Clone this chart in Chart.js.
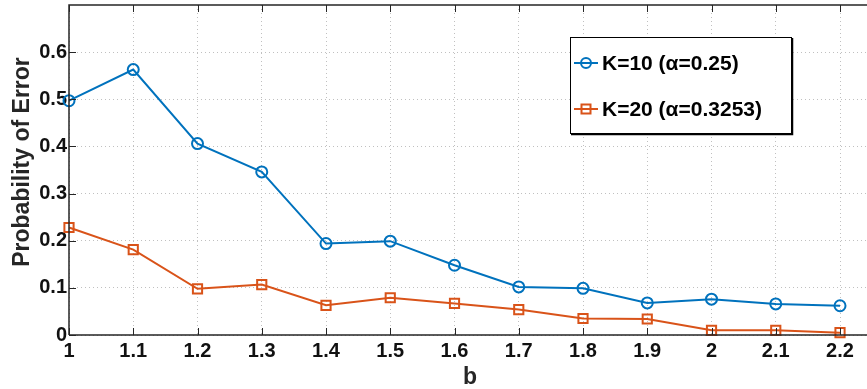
<!DOCTYPE html>
<html>
<head>
<meta charset="utf-8">
<script src="https://cdn.jsdelivr.net/npm/chart.js@4"></script>
<style>
  html, body { margin: 0; padding: 0; background: #fff; overflow: hidden; }
  #wrap { width: 867px; height: 389px; }
</style>
</head>
<body>
<div id="wrap"><canvas id="chart" width="867" height="389"></canvas></div>
<script>
// values
const bValues = [1, 1.1, 1.2, 1.3, 1.4, 1.5, 1.6, 1.7, 1.8, 1.9, 2, 2.1, 2.2];
const errK10 = [0.497, 0.563, 0.406, 0.346, 0.194, 0.199, 0.148, 0.102, 0.099, 0.068, 0.076, 0.066, 0.062];
const errK20 = [0.228, 0.181, 0.098, 0.107, 0.063, 0.079, 0.067, 0.054, 0.035, 0.034, 0.010, 0.010, 0.005];
const seriesLabels = ["K=10 (\u03b1=0.25)", "K=20 (\u03b1=0.3253)"];
const yTickValues = [0, 0.1, 0.2, 0.3, 0.4, 0.5, 0.6];
const xTitle = "b";
const yTitle = "Probability of Error";

const BLUE = "#0072BD";
const ORANGE = "#D95319";
const FONT = "'Liberation Sans', Arial, Helvetica, sans-serif";

const toPoints = (ys) => bValues.map((b, i) => ({ x: b, y: ys[i] }));
const fmt = (v) => String(Number(v.toFixed(1)));

// frame, inward tick marks, axis titles and the boxed legend (MATLAB look)
const framePlugin = {
    id: "frame",
    afterDraw(chart) {
        const { ctx, chartArea: a, scales } = chart;
        ctx.save();
        ctx.strokeStyle = "#262626";
        ctx.lineWidth = 1.5;
        ctx.beginPath();
        ctx.moveTo(a.left, a.bottom);
        ctx.lineTo(a.left, a.top);
        ctx.lineTo(a.right, a.top);
        ctx.moveTo(a.left, a.bottom);
        ctx.lineTo(a.right, a.bottom);
        ctx.stroke();

        ctx.lineWidth = 1;
        ctx.beginPath();
        scales.x.ticks.forEach(t => {
            const px = Math.round(scales.x.getPixelForValue(t.value)) + 0.5;
            ctx.moveTo(px, a.bottom); ctx.lineTo(px, a.bottom - 7);
            ctx.moveTo(px, a.top); ctx.lineTo(px, a.top + 7);
        });
        scales.y.ticks.forEach(t => {
            const py = Math.round(scales.y.getPixelForValue(t.value)) + 0.5;
            ctx.moveTo(a.left, py); ctx.lineTo(a.left + 7, py);
        });
        ctx.stroke();

        // axis titles
        ctx.fillStyle = "#262626";
        ctx.textAlign = "center";
        ctx.textBaseline = "alphabetic";
        ctx.font = "bold 23px " + FONT;
        ctx.fillText(xTitle, 470, 384);
        ctx.save();
        ctx.translate(29, 162);
        ctx.rotate(-Math.PI / 2);
        ctx.font = "bold 23px " + FONT;
        ctx.fillText(yTitle, 0, 0);
        ctx.restore();

        // legend box
        const lx = 570, ly = 37, lw = 221, lh = 96;
        ctx.fillStyle = "#fff";
        ctx.fillRect(lx, ly, lw, lh);
        ctx.strokeStyle = "#000";
        ctx.lineWidth = 1;
        ctx.strokeRect(lx + 0.5, ly + 0.5, lw, lh);
        ctx.lineWidth = 1.5;
        ctx.beginPath();
        ctx.moveTo(lx + 1, ly + lh + 1.5); ctx.lineTo(lx + lw + 1.5, ly + lh + 1.5);
        ctx.lineTo(lx + lw + 1.5, ly + 1);
        ctx.stroke();

        const rows = [ly + 26, ly + 72];
        chart.data.datasets.forEach((ds, i) => {
            const y = rows[i];
            const mx = lx + 16;
            ctx.strokeStyle = ds.borderColor;
            ctx.lineWidth = 2;
            ctx.beginPath();
            ctx.moveTo(lx + 4, y); ctx.lineTo(lx + 28, y);
            ctx.stroke();
            ctx.beginPath();
            if (ds.pointStyle === "rect") {
                ctx.rect(mx - 4.5, y - 4.5, 9, 9);
            } else {
                ctx.arc(mx, y, 5, 0, Math.PI * 2);
            }
            ctx.stroke();
            ctx.fillStyle = "#000";
            ctx.font = "bold 21px " + FONT;
            ctx.textBaseline = "middle";
            ctx.textAlign = "left";
            ctx.fillText(ds.label, lx + 32, y + 1);
        });
        ctx.restore();
    }
};

new Chart(document.getElementById("chart"), {
    type: "line",
    data: {
        datasets: [
            {
                label: seriesLabels[0],
                data: toPoints(errK10),
                borderColor: BLUE,
                backgroundColor: "rgba(0,0,0,0)",
                borderWidth: 2,
                pointStyle: "circle",
                pointRadius: 5.5,
                pointBorderWidth: 2,
                tension: 0,
                clip: false
            },
            {
                label: seriesLabels[1],
                data: toPoints(errK20),
                borderColor: ORANGE,
                backgroundColor: "rgba(0,0,0,0)",
                borderWidth: 2,
                pointStyle: "rect",
                pointRadius: 6.5,
                pointBorderWidth: 2,
                tension: 0,
                clip: false
            }
        ]
    },
    options: {
        responsive: false,
        animation: false,
        layout: { autoPadding: false, padding: { left: 0, right: 0, top: 5, bottom: 0 } },
        plugins: { legend: { display: false }, tooltip: { enabled: false } },
        scales: {
            x: {
                type: "linear",
                min: 1,
                max: 2.242,
                grid: { color: "#c0c0c0", lineWidth: 1, drawTicks: false },
                border: { display: false, dash: [1, 3] },
                ticks: {
                    stepSize: 0.1,
                    includeBounds: false,
                    padding: 4,
                    color: "#111",
                    font: { family: FONT, size: 20, weight: "bold" },
                    callback: (v) => fmt(v),
                    maxRotation: 0,
                    autoSkip: false
                },
                afterFit: (s) => { s.height = 54; s.paddingLeft = 0; s.paddingRight = 0; }
            },
            y: {
                min: 0,
                max: 0.7,
                afterBuildTicks: (s) => { s.ticks = yTickValues.map(v => ({ value: v })); },
                grid: { color: "#c0c0c0", lineWidth: 1, drawTicks: false },
                border: { display: false, dash: [1, 3] },
                ticks: {
                    padding: 2,
                    color: "#111",
                    font: { family: FONT, size: 20, weight: "bold" },
                    callback: (v) => fmt(v)
                },
                afterFit: (s) => { s.width = 69; s.paddingTop = 0; s.paddingBottom = 0; }
            }
        }
    },
    plugins: [framePlugin]
});
</script>
</body>
</html>
